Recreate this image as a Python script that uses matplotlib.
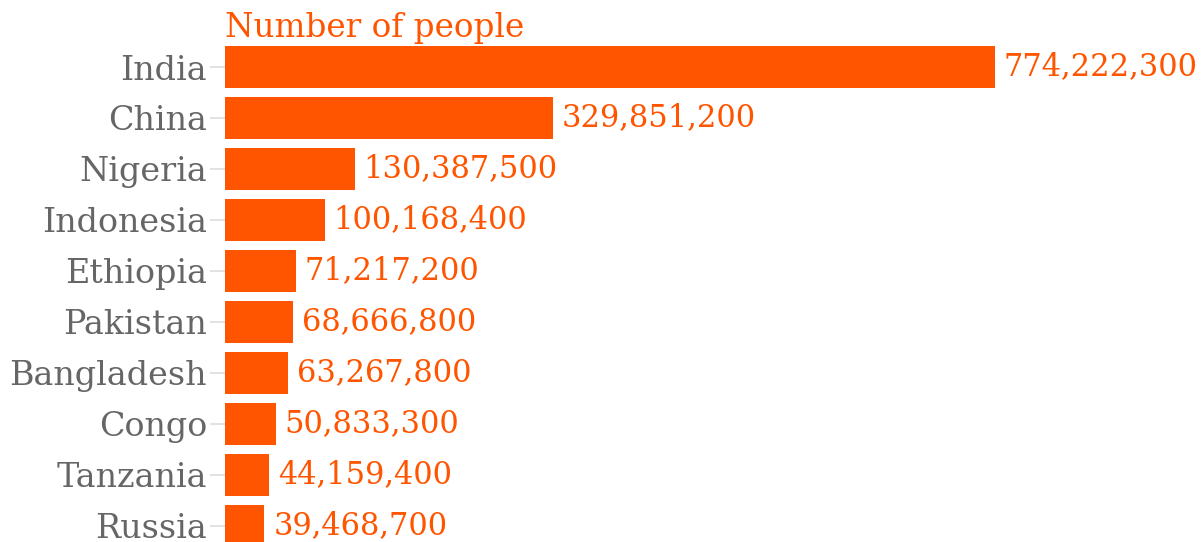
import matplotlib.pyplot as plt

# data
countries = ["India", "China", "Nigeria", "Indonesia", "Ethiopia",
             "Pakistan", "Bangladesh", "Congo", "Tanzania", "Russia"]
people = [774222300, 329851200, 130387500, 100168400, 71217200,
          68666800, 63267800, 50833300, 44159400, 39468700]

orange = "#ff5500"
grey = "#666666"

fig = plt.figure(figsize=(12.01, 5.42), dpi=100)
ax = fig.add_axes([225 / 1201, 0, 1 - 225 / 1201, 1])

pos = list(range(len(countries)))
ax.barh(pos, people, height=42 / 51, color=orange)

# pixel scale: 770 px for the India bar, axes 976 px wide
ax.set_xlim(0, people[0] * 976 / 770)
ax.set_ylim((542 - 67) / 51, -67 / 51)

for p, v in zip(pos, people):
    ax.annotate(f"{v:,}", (v, p), xytext=(9, 0), textcoords="offset pixels",
                va="center", ha="left", color=orange, fontsize=22,
                family="DejaVu Serif")

ax.set_yticks(pos)
ax.set_yticklabels(countries, fontsize=24, color=grey, family="DejaVu Serif")
ax.tick_params(axis="y", length=11, width=1.2, color="#dddddd", pad=2)
ax.set_xticks([])
for s in ax.spines.values():
    s.set_visible(False)

fig.text(225 / 1201, 1 - 37 / 542, "Number of people", color=orange,
         fontsize=23.5, family="DejaVu Serif", ha="left", va="baseline")

fig.savefig("out.png", dpi=100)
